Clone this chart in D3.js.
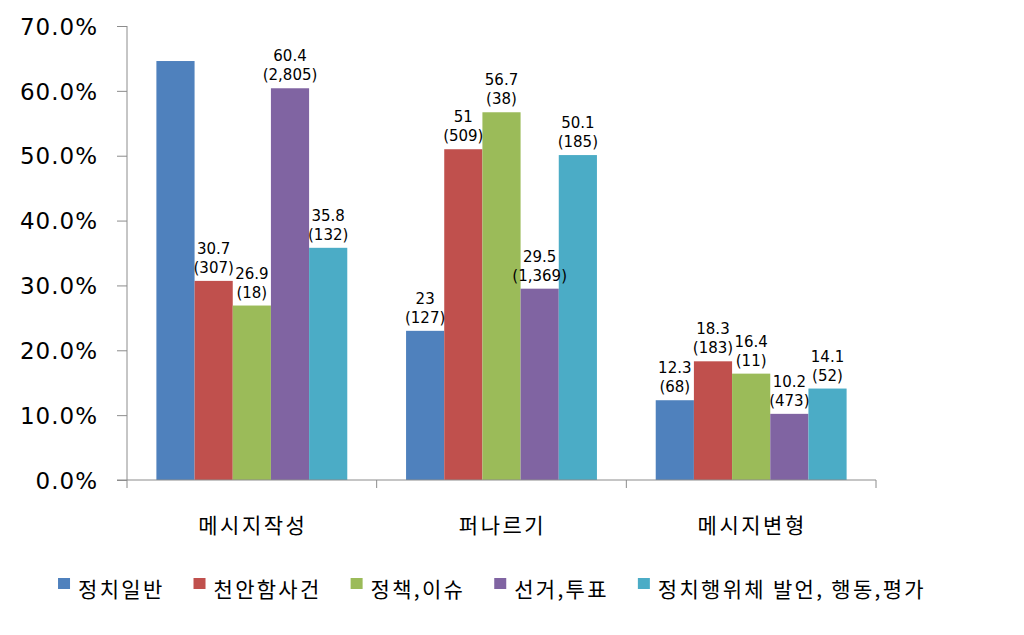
<!DOCTYPE html>
<html>
<head>
<meta charset="utf-8">
<script src="https://cdn.jsdelivr.net/npm/d3@7"></script>
<style>
  body { margin: 0; background: #fff; }
  svg { display: block; font-family: "Noto Sans CJK KR", "Noto Sans", sans-serif; }
  .num { font-family: "DejaVu Sans", sans-serif; }
</style>
</head>
<body>
<div id="chart"></div>
<script>
var width = 1024;
var height = 635;

// data
var categories = ["메시지작성", "퍼나르기", "메시지변형"];
var seriesNames = ["정치일반", "천안함사건", "정책,이슈", "선거,투표", "정치행위체 발언, 행동,평가"];
var colors = ["#4F81BD", "#C0504D", "#9BBB59", "#8064A2", "#4BACC6"];
// percent per series, one entry per category
var values = [
  [64.6, 23, 12.3],
  [30.7, 51, 18.3],
  [26.9, 56.7, 16.4],
  [60.4, 29.5, 10.2],
  [35.8, 50.1, 14.1]
];
// counts shown under the percent (null = no label)
var counts = [
  [null, "127", "68"],
  ["307", "509", "183"],
  ["18", "38", "11"],
  ["2,805", "1,369", "473"],
  ["132", "185", "52"]
];
var yTicks = [0, 10, 20, 30, 40, 50, 60, 70];

var margin = {top: 26, left: 127, right: 148, bottom: 155};

var svg = d3.select("#chart")
  .append("svg")
  .attr("width", width)
  .attr("height", height);

var x0 = d3.scaleBand()
  .domain(categories)
  .range([margin.left, width - margin.right])
  .paddingInner(0)
  .paddingOuter(0);

var x1 = d3.scaleBand()
  .domain(d3.range(seriesNames.length))
  .range([0, x0.bandwidth()])
  .paddingOuter(0.77);

var y = d3.scaleLinear()
  .domain([0, 70])
  .range([height - margin.bottom, margin.top]);

// y axis
var yAxis = svg.append("g")
  .attr("transform", `translate(${margin.left},0)`)
  .call(d3.axisLeft(y).tickValues(yTicks).tickSize(10).tickFormat(d => d.toFixed(1) + "%").tickPadding(19));
yAxis.selectAll("line, path").attr("stroke", "#8c8c8c");
yAxis.select(".domain").attr("d", `M0,${y(0)}V${y(70)}`);
yAxis.selectAll("text")
  .attr("class", "num")
  .attr("fill", "#000")
  .style("font-size", "23px")
  .style("letter-spacing", "1px")
  .attr("dy", "0.36em");

// bars
var rows = [];
values.forEach((vals, s) => {
  vals.forEach((v, c) => {
    rows.push({s: s, c: c, v: v, n: counts[s][c]});
  });
});

svg.append("g").selectAll("rect")
  .data(rows)
  .enter()
  .append("rect")
  .attr("x", d => x0(categories[d.c]) + x1(d.s))
  .attr("y", d => y(d.v))
  .attr("width", x1.bandwidth())
  .attr("height", d => y(0) - y(d.v))
  .attr("fill", d => colors[d.s]);

// x axis
var xAxis = svg.append("g")
  .attr("transform", `translate(0,${y(0)})`);
xAxis.append("line")
  .attr("x1", margin.left - 10)
  .attr("x2", width - margin.right)
  .attr("y1", 0).attr("y2", 0)
  .attr("stroke", "#8c8c8c");
var edges = categories.map(c => x0(c)).concat([width - margin.right]);
xAxis.selectAll(".tk")
  .data(edges)
  .enter()
  .append("line")
  .attr("class", "tk")
  .attr("x1", d => d).attr("x2", d => d)
  .attr("y1", 0).attr("y2", 8)
  .attr("stroke", "#8c8c8c");
xAxis.selectAll(".cat")
  .data(categories)
  .enter()
  .append("text")
  .attr("class", "cat")
  .attr("x", d => x0(d) + x0.bandwidth() / 2 + 1)
  .attr("y", 53)
  .attr("text-anchor", "middle")
  .style("font-size", "21px")
  .style("letter-spacing", "2.5px")
  .text(d => d);

// data labels
var lab = svg.append("g").selectAll("text")
  .data(rows.filter(d => d.n !== null))
  .enter()
  .append("text")
  .attr("class", "num")
  .attr("text-anchor", "middle")
  .style("font-size", "15px")
  .attr("fill", "#000");
lab.append("tspan")
  .attr("x", d => x0(categories[d.c]) + x1(d.s) + x1.bandwidth() / 2)
  .attr("y", d => y(d.v) - 27)
  .text(d => d.v);
lab.append("tspan")
  .attr("x", d => x0(categories[d.c]) + x1(d.s) + x1.bandwidth() / 2)
  .attr("y", d => y(d.v) - 8)
  .text(d => "(" + d.n + ")");

// legend
var legend = svg.append("g").attr("transform", "translate(0,597)");
var items = legend.selectAll("g")
  .data(seriesNames)
  .enter()
  .append("g");
items.append("rect")
  .attr("y", -19)
  .attr("width", 12)
  .attr("height", 11)
  .attr("fill", (d, i) => colors[i]);
items.append("text")
  .attr("x", 20)
  .style("font-size", "21px")
  .style("letter-spacing", "2.3px")
  .text(d => d);
var xs = 0;
var pos = [];
items.each(function() {
  var w = this.querySelector("text").getComputedTextLength();
  pos.push(xs);
  xs += 20 + w + 29;
});
var total = xs - 29;
var startX = 492 - total / 2;
items.attr("transform", (d, i) => `translate(${startX + pos[i]},0)`);
</script>
</body>
</html>
